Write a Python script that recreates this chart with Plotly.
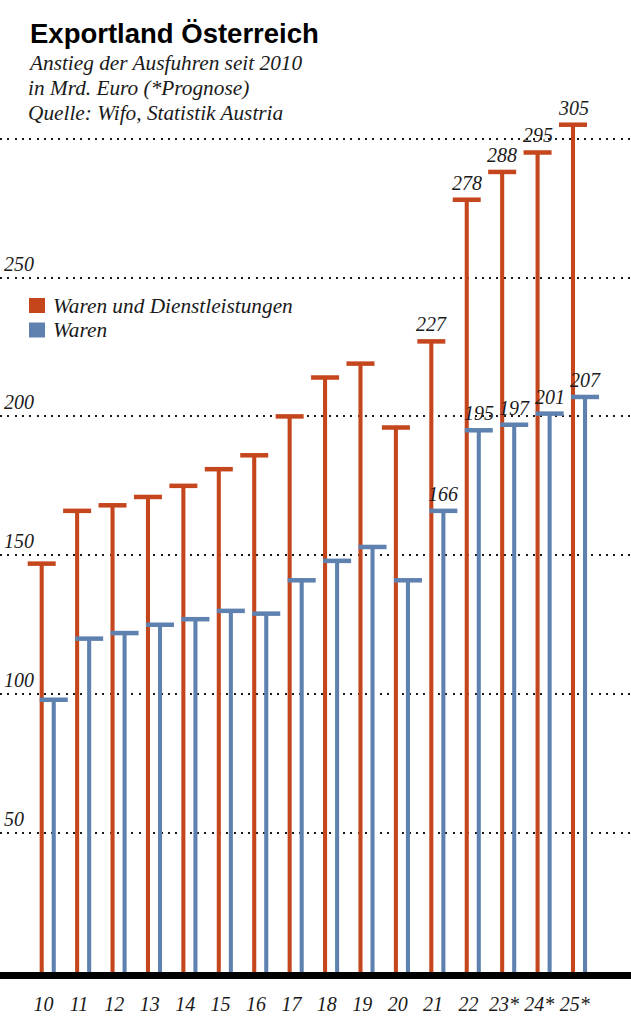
import plotly.graph_objects as go

# ---- data ----
years = ["10", "11", "12", "13", "14", "15", "16", "17", "18", "19", "20", "21", "22", "23*", "24*", "25*"]
waren_dienst = [147, 166, 168, 171, 175, 181, 186, 200, 214, 219, 196, 227, 278, 288, 295, 305]
waren = [98, 120, 122, 125, 127, 130, 129, 141, 148, 153, 141, 166, 195, 197, 201, 207]
labeled_from = 11  # values are printed from year 21 on
ytick_vals = [50, 100, 150, 200, 250, 300]
ytick_text = ["50", "100", "150", "200", "250", ""]

title = "Exportland Österreich"
subtitle_lines = ["Anstieg der Ausfuhren seit 2010", "in Mrd. Euro (*Prognose)", "Quelle: Wifo, Statistik Austria"]
legend_names = ["Waren und Dienstleistungen", "Waren"]

# ---- style ----
W, H = 631, 1024
ZERO_PX = 972          # page y of value 0
PLOT_BOTTOM = 986      # page y of plot-area bottom
BOTTOM = H - PLOT_BOTTOM
PLOT_H = PLOT_BOTTOM
PX_PER_UNIT = 2.778
ORANGE = "#C5461D"
BLUE = "#5E81AF"
SERIF = "Liberation Serif"
TXT = "#1a1a1a"
BLUE_OFF = 0.34
BAR_W = 0.115

x_or = [i for i in range(len(years))]
x_bl = [i + BLUE_OFF for i in range(len(years))]

fig = go.Figure()
fig.add_trace(go.Bar(x=x_or, y=waren_dienst, width=BAR_W, marker=dict(color=ORANGE, line=dict(width=0)),
                     name=legend_names[0], showlegend=False))
fig.add_trace(go.Bar(x=x_bl, y=waren, width=BAR_W, marker=dict(color=BLUE, line=dict(width=0)),
                     name=legend_names[1], showlegend=False))
fig.add_trace(go.Scatter(x=x_or, y=waren_dienst, mode="markers", showlegend=False,
                         marker=dict(symbol="line-ew", size=20, line=dict(width=4.5, color=ORANGE)), cliponaxis=False))
fig.add_trace(go.Scatter(x=x_bl, y=waren, mode="markers", showlegend=False,
                         marker=dict(symbol="line-ew", size=20, line=dict(width=4.5, color=BLUE)), cliponaxis=False))

annotations = []
for i in range(labeled_from, len(years)):
    for xs, vals in ((x_or, waren_dienst), (x_bl, waren)):
        annotations.append(dict(x=xs[i], y=vals[i], xref="x", yref="y", text=str(vals[i]), showarrow=False,
                                yshift=17, xanchor="center", yanchor="middle",
                                font=dict(family=SERIF, size=20, color=TXT, style="italic")))

def py(p):
    return 1 - p / PLOT_H

annotations.append(dict(x=28 / W, y=py(33), xref="paper", yref="paper", text="<b>" + title + "</b>",
                        showarrow=False, xanchor="left", yanchor="middle",
                        font=dict(family="Liberation Sans", size=27.5, color="#000")))
for k, line in enumerate(subtitle_lines):
    annotations.append(dict(x=26 / W, y=py(63 + 25 * k), xref="paper", yref="paper", text=line,
                            showarrow=False, xanchor="left", yanchor="middle",
                            font=dict(family=SERIF, size=21.3, color=TXT, style="italic")))

shapes = []
for k, (name, col) in enumerate(zip(legend_names, [ORANGE, BLUE])):
    cy = 305.5 + 24.5 * k
    shapes.append(dict(type="rect", xref="paper", yref="paper", x0=29 / W, x1=45 / W,
                       y0=py(cy - 7.5), y1=py(cy + 7.5), fillcolor=col, line=dict(width=0)))
    annotations.append(dict(x=51 / W, y=py(cy), xref="paper", yref="paper", text=name, showarrow=False,
                            xanchor="left", yanchor="middle",
                            font=dict(family=SERIF, size=21.3, color=TXT, style="italic")))

# thick baseline just below zero
shapes.append(dict(type="rect", xref="paper", yref="y", x0=0.0, x1=1.0, ysizemode="pixel", yanchor=0,
                   y0=-7, y1=0, fillcolor="#000", line=dict(width=0), layer="above"))

x0px = 41.7
step = 35.42
y_lo = -(PLOT_BOTTOM - ZERO_PX) / PX_PER_UNIT
y_hi = ZERO_PX / PX_PER_UNIT
fig.update_layout(
    width=W, height=H,
    margin=dict(l=0, r=0, t=0, b=BOTTOM),
    paper_bgcolor="white", plot_bgcolor="white",
    barmode="overlay",
    showlegend=False,
    annotations=annotations,
    shapes=shapes,
    xaxis=dict(range=[-x0px / step, (W - x0px) / step], tickvals=[i + 0.05 for i in range(len(years))],
               ticktext=years, showgrid=False, zeroline=False, showline=False, ticks="",
               ticklabelstandoff=4,
               tickfont=dict(family=SERIF, size=20, color=TXT, style="italic"), fixedrange=True),
    yaxis=dict(range=[y_lo, y_hi], tickvals=ytick_vals, ticktext=ytick_text,
               showgrid=True, gridcolor="#1a1a1a", gridwidth=2, griddash="2px,5.3px",
               zeroline=False, showline=False, ticks="",
               ticklabelposition="inside", ticklabelshift=-14, ticklabelstandoff=1,
               tickfont=dict(family=SERIF, size=20, color=TXT, style="italic"), fixedrange=True),
)

fig.write_html("out.html", config={"displayModeBar": False},
               post_script="document.body.style.margin='0';document.body.style.overflow='hidden';")
